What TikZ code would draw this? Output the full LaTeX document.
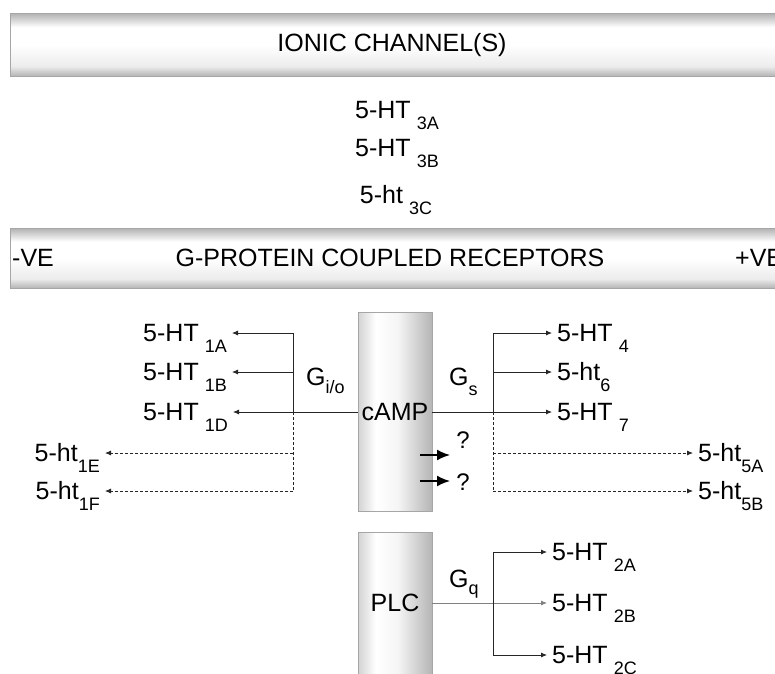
\documentclass[tikz,border=0pt]{standalone}
\usepackage{fontspec}
\setmainfont{Liberation Sans}
\usetikzlibrary{arrows.meta}

\colorlet{bardark}{gray!60}
\colorlet{barmid}{gray!15}
\colorlet{boxleft}{gray!35}
\colorlet{boxmid}{gray!8}
\colorlet{boxright}{gray!58}
\colorlet{linecol}{black!85}

\pgfdeclareverticalshading{barshade}{100bp}{color(0bp)=(bardark); color(25bp)=(bardark); color(33bp)=(barmid); color(50bp)=(white); color(64bp)=(white); color(75bp)=(bardark); color(100bp)=(bardark)}
\pgfdeclarehorizontalshading{boxshade}{100bp}{color(0bp)=(boxleft); color(25bp)=(boxleft); color(37bp)=(white); color(52bp)=(boxmid); color(75bp)=(boxright); color(100bp)=(boxright)}

\newcommand{\subfnt}{\fontsize{18}{20}\selectfont}
\newcommand{\rcp}[3][6pt]{#2\hspace{#1}\raisebox{-11pt}[0pt][0pt]{\subfnt #3}}

\tikzset{
  bar/.style={draw=gray!70, line width=0.8pt, shading=barshade, shade, inner sep=0pt},
  boxn/.style={draw=gray!70, line width=0.8pt, shading=boxshade, shade, inner sep=0pt,
    minimum width=74pt, font=\fontsize{25}{28}\selectfont},
  bartxt/.style={font=\fontsize{25}{28}\selectfont, inner sep=0pt},
  lbl/.style={font=\fontsize{25}{28}\selectfont, inner xsep=5pt, inner ysep=0pt},
  glbl/.style={font=\fontsize{25}{28}\selectfont, inner sep=0pt, anchor=west},
  arr/.style={linecol, line width=0.8pt, -{Latex[length=6pt,width=5pt]}},
  darr/.style={arr, dash pattern=on 3pt off 2pt},
  bigarr/.style={black, line width=1.8pt, -{Latex[length=13pt,width=11pt]}}
}

\begin{document}
\begin{tikzpicture}[x=1pt,y=-1pt]
    \clip (0,0) rectangle (775,673);

    % 两条横栏
    \node[bar, minimum width=780pt, minimum height=63pt, anchor=north west] (ionbar) at (10,13) {};
    \node[bartxt] (iontxt) at (392,45) {IONIC CHANNEL(S)};
    \node[bar, minimum width=780pt, minimum height=60pt, anchor=north west] (gpbar) at (10,228) {};
    \node[bartxt, anchor=west] (neg) at (12,258) {-VE};
    \node[bartxt] (gptxt) at (390,258) {G-PROTEIN COUPLED RECEPTORS};
    \node[bartxt, anchor=west] (pos) at (735,258) {+VE};

    % 离子通道受体
    \node[lbl] (r3a) at (397,110) {\rcp{5-HT}{3A}};
    \node[lbl] (r3b) at (397,148) {\rcp{5-HT}{3B}};
    \node[lbl] (r3c) at (396,195) {\rcp{5-ht}{3C}};

    % 两个效应器
    \node[boxn, minimum height=199pt] (camp) at (395,412) {cAMP};
    \node[boxn, minimum height=142pt] (plc) at (395,603) {PLC};

    % 左侧受体 (G i/o)
    \node[lbl, anchor=east] (r1a) at (232,333) {\rcp{5-HT}{1A}};
    \node[lbl, anchor=east] (r1b) at (232,372) {\rcp{5-HT}{1B}};
    \node[lbl, anchor=east] (r1d) at (233,412) {\rcp{5-HT}{1D}};
    \node[lbl, anchor=east] (r1e) at (105,453) {\rcp[0pt]{5-ht}{1E}};
    \node[lbl, anchor=east] (r1f) at (105,491) {\rcp[0pt]{5-ht}{1F}};
    \node[glbl] (gio) at (306,377) {G\raisebox{-8pt}[0pt][0pt]{\subfnt i/o}};

    % 右侧受体 (G s)
    \node[lbl, anchor=west] (r4) at (552,333) {\rcp{5-HT}{4}};
    \node[lbl, anchor=west] (r6) at (552,372) {\rcp[0pt]{5-ht}{6}};
    \node[lbl, anchor=west] (r7) at (552,412) {\rcp{5-HT}{7}};
    \node[lbl, anchor=west] (r5a) at (693,453) {\rcp[0pt]{5-ht}{5A}};
    \node[lbl, anchor=west] (r5b) at (693,491) {\rcp[0pt]{5-ht}{5B}};
    \node[glbl] (gs) at (449,377) {G\raisebox{-10pt}[0pt][0pt]{\subfnt s}};

    % PLC 受体 (G q)
    \node[lbl, anchor=west] (r2a) at (547,552) {\rcp{5-HT}{2A}};
    \node[lbl, anchor=west] (r2b) at (547,603) {\rcp{5-HT}{2B}};
    \node[lbl, anchor=west] (r2c) at (547,655) {\rcp{5-HT}{2C}};
    \node[glbl] (gq) at (449,579) {G\raisebox{-7pt}[0pt][0pt]{\subfnt q}};

    % 问号
    \node[font=\fontsize{24}{26}\selectfont, inner sep=0pt] (q1) at (463,440) {?};
    \node[font=\fontsize{24}{26}\selectfont, inner sep=0pt] (q2) at (463,482) {?};

    % 分支点
    \coordinate (b1a) at (293,333);
    \coordinate (b1b) at (293,372);
    \coordinate (b1d) at (293,412);
    \coordinate (b1e) at (293,453);
    \coordinate (b1f) at (293,491);
    \coordinate (b4) at (493,333);
    \coordinate (b6) at (493,372);
    \coordinate (b7) at (493,412);
    \coordinate (b5a) at (493,453);
    \coordinate (b5b) at (493,491);
    \coordinate (b2a) at (493,552);
    \coordinate (b2c) at (493,655);
    \coordinate (qs1) at (420,455);
    \coordinate (qe1) at (450,455);
    \coordinate (qs2) at (420,481);
    \coordinate (qe2) at (450,481);

    % 左侧连线
    \draw[arr] (camp.west) -- (r1d.east);
    \draw[linecol, line width=0.8pt] (b1a) -- (b1d);
    \draw[linecol, line width=0.8pt, dash pattern=on 3pt off 2pt] (b1d) -- (b1f);
    \draw[arr] (b1a) -- (r1a.east);
    \draw[arr] (b1b) -- (r1b.east);
    \draw[darr] (b1e) -- (r1e.east);
    \draw[darr] (b1f) -- (r1f.east);

    % 右侧连线
    \draw[arr] (camp.east) -- (r7.west);
    \draw[linecol, line width=0.8pt] (b4) -- (b7);
    \draw[linecol, line width=0.8pt, dash pattern=on 3pt off 2pt] (b7) -- (b5b);
    \draw[arr] (b4) -- (r4.west);
    \draw[arr] (b6) -- (r6.west);
    \draw[darr] (b5a) -- (r5a.west);
    \draw[darr] (b5b) -- (r5b.west);

    % PLC 连线
    \draw[arr, gray] (plc.east) -- (r2b.west);
    \draw[linecol, line width=0.8pt] (b2a) -- (b2c);
    \draw[arr] (b2a) -- (r2a.west);
    \draw[arr] (b2c) -- (r2c.west);

    % 粗箭头
    \draw[bigarr] (qs1) -- (qe1);
    \draw[bigarr] (qs2) -- (qe2);

\end{tikzpicture}
\end{document}
